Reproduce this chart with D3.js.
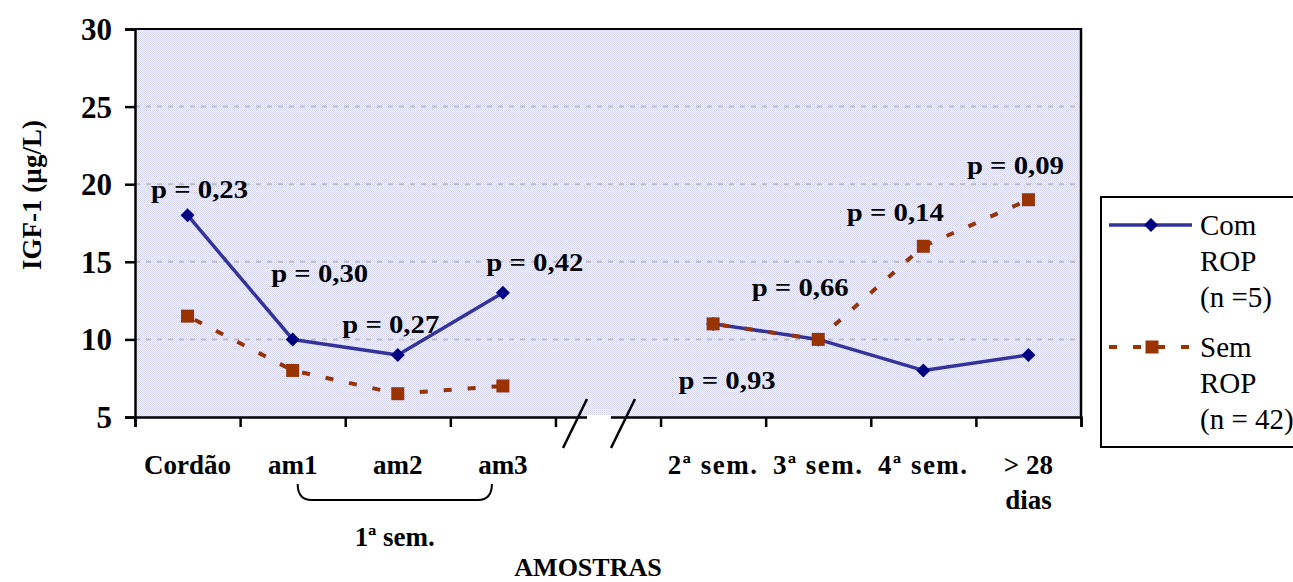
<!DOCTYPE html>
<html>
<head>
<meta charset="utf-8">
<script src="https://cdn.jsdelivr.net/npm/d3@7"></script>
<style>
  html, body { margin: 0; padding: 0; background: #ffffff; }
  svg { display: block; }
  text { font-family: "Liberation Serif", "Times New Roman", serif; fill: #000; }
</style>
</head>
<body>
<svg id="chart" width="1293" height="582"></svg>
<script>
// Sampling points (the empty slot is the broken-axis gap)
const categories = ["Cordão", "am1", "am2", "am3", "", "2ª sem.", "3ª sem.", "4ª sem.", "> 28 dias"];
const categoryLines = [["Cordão"], ["am1"], ["am2"], ["am3"], [], ["2ª sem."], ["3ª sem."], ["4ª sem."], ["> 28", "dias"]];

// IGF-1 (µg/L) per group
const comROP = [18, 10, 9, 13, null, 11, 10, 8, 9];
const semROP = [11.5, 8, 6.5, 7, null, 11, 10, 16, 19];

// p-values shown for each sampling point
const pCategories = ["Cordão", "am1", "am2", "am3", "2ª sem.", "3ª sem.", "4ª sem.", "> 28 dias"];
const pValues = ["0,23", "0,30", "0,27", "0,42", "0,93", "0,66", "0,14", "0,09"];

const yTicks = [5, 10, 15, 20, 25, 30];
const seriesNames = [["Com", "ROP", "(n =5)"], ["Sem", "ROP", "(n = 42)"]];

// ---------------------------------------------------------------
const svg = d3.select("#chart");
const plot = { left: 135, right: 1081, top: 29, bottom: 417 };

const x = d3.scaleLinear().domain([0, categories.length]).range([plot.left, plot.right]);
const xc = i => x(i + 0.5);
const y = d3.scaleLinear().domain([5, 30]).range([plot.bottom, plot.top]);

// dotted lavender fill of the plot area
const defs = svg.append("defs");
const pat = defs.append("pattern").attr("id", "dots")
  .attr("patternUnits", "userSpaceOnUse").attr("width", 2).attr("height", 2);
pat.append("rect").attr("width", 2).attr("height", 2).attr("fill", "#f4f4ff");
pat.append("rect").attr("width", 1).attr("height", 1).attr("fill", "#d2d2f4");
pat.append("rect").attr("x", 1).attr("y", 1).attr("width", 1).attr("height", 1).attr("fill", "#dcdcf8");

svg.append("rect")
  .attr("x", plot.left).attr("y", plot.top)
  .attr("width", plot.right - plot.left).attr("height", plot.bottom - plot.top)
  .attr("fill", "url(#dots)");

// horizontal gridlines
svg.append("g").selectAll("line")
  .data(yTicks.filter(v => v > 5))
  .join("line")
  .attr("x1", plot.left).attr("x2", plot.right)
  .attr("y1", d => y(d)).attr("y2", d => y(d))
  .attr("stroke", "#bdbdbd").attr("stroke-width", 2)
  .attr("stroke-dasharray", "5,6");

// frame: top and right edges
svg.append("line")
  .attr("x1", plot.left).attr("x2", plot.right)
  .attr("y1", plot.top).attr("y2", plot.top)
  .attr("stroke", "#000").attr("stroke-width", 2);
svg.append("line")
  .attr("x1", plot.right).attr("x2", plot.right)
  .attr("y1", plot.top - 1).attr("y2", plot.bottom)
  .attr("stroke", "#000").attr("stroke-width", 2.5);

// y axis
const yAxis = svg.append("g")
  .attr("transform", `translate(${plot.left},0)`)
  .call(d3.axisLeft(y).tickValues(yTicks).tickSize(10).tickPadding(13).tickFormat(d3.format("d")));
yAxis.select(".domain").attr("stroke", "#000").attr("stroke-width", 2.5);
yAxis.selectAll(".tick line").attr("stroke", "#000").attr("stroke-width", 2.5);
yAxis.selectAll(".tick text")
  .attr("font-family", "Liberation Serif").attr("font-size", 31).attr("font-weight", "bold")
  .attr("fill", "#000").attr("dy", "0.34em");

// x axis: tick marks sit between categories
const xAxis = svg.append("g")
  .attr("transform", `translate(0,${plot.bottom})`)
  .call(d3.axisBottom(x).tickValues(d3.range(0, categories.length + 1)).tickSize(10).tickFormat(""));
xAxis.select(".domain").attr("stroke", "#000").attr("stroke-width", 2.5);
xAxis.selectAll(".tick line").attr("stroke", "#000").attr("stroke-width", 2.5);

// axis break inside the empty slot
const breakC = xc(categories.indexOf("")) - 9;
svg.append("rect")
  .attr("x", breakC - 12).attr("y", plot.bottom - 2)
  .attr("width", 24).attr("height", 4).attr("fill", "#fff");
[-24, 24].forEach(off => {
  svg.append("line")
    .attr("x1", breakC + off - 12).attr("y1", plot.bottom + 31)
    .attr("x2", breakC + off + 12).attr("y2", plot.bottom - 18)
    .attr("stroke", "#000").attr("stroke-width", 2.5);
});

// series lines
const line = d3.line()
  .defined(d => d != null)
  .x((d, i) => xc(i))
  .y(d => y(d));

svg.append("path")
  .datum(comROP)
  .attr("d", line)
  .attr("fill", "none").attr("stroke", "#333399").attr("stroke-width", 3.5)
  .attr("stroke-linejoin", "round");

const diamond = r => `M0,${-r}L${r},0L0,${r}L${-r},0Z`;
svg.append("g").selectAll("path")
  .data(comROP.map((v, i) => ({ v, i })).filter(d => d.v != null))
  .join("path")
  .attr("transform", d => `translate(${xc(d.i)},${y(d.v)})`)
  .attr("d", diamond(7))
  .attr("fill", "#000080");

svg.append("path")
  .datum(semROP)
  .attr("d", line)
  .attr("fill", "none").attr("stroke", "#993300").attr("stroke-width", 4)
  .attr("stroke-dasharray", "8,16").attr("stroke-dashoffset", -8);

svg.append("g").selectAll("rect")
  .data(semROP.map((v, i) => ({ v, i })).filter(d => d.v != null))
  .join("rect")
  .attr("x", d => xc(d.i) - 6.5).attr("y", d => y(d.v) - 6.5)
  .attr("width", 13).attr("height", 13)
  .attr("fill", "#993300");

// p-value annotations: horizontal offset from the category centre and baseline level
const pLayout = [
  { dx: 12, at: 19.1 }, { dx: 27, at: 13.7 }, { dx: -7, at: 10.4 }, { dx: 32, at: 14.4 },
  { dx: 14, at: 6.8 }, { dx: -18, at: 12.8 }, { dx: -28, at: 17.6 }, { dx: -13, at: 20.65 }
];
const pG = svg.append("g");
pValues.forEach((pv, k) => {
  const ci = categories.indexOf(pCategories[k]);
  pG.append("g")
    .attr("transform", `translate(${xc(ci) + pLayout[k].dx},${y(pLayout[k].at)}) scale(1.15,1)`)
    .append("text")
    .attr("text-anchor", "middle")
    .attr("font-size", 25).attr("font-weight", "bold")
    .text(`p = ${pv}`);
});

// category labels
const catG = svg.append("g");
categoryLines.forEach((lines, i) => {
  lines.forEach((t, j) => {
    catG.append("text")
      .attr("x", xc(i)).attr("y", 474 + j * 35)
      .attr("text-anchor", "middle")
      .attr("font-size", 27).attr("font-weight", "bold")
      .attr("letter-spacing", t.includes("sem") ? 1.5 : 0)
      .text(t);
  });
});

// bracket grouping am1..am3 as the first week
const bL = xc(1) + 5, bR = xc(3) - 11, bTop = 484, bBot = 500;
svg.append("path")
  .attr("d", `M${bL},${bTop} Q${bL},${bBot} ${bL + 14},${bBot} L${bR - 14},${bBot} Q${bR},${bBot} ${bR},${bTop}`)
  .attr("fill", "none").attr("stroke", "#000").attr("stroke-width", 2);
svg.append("text")
  .attr("x", (bL + bR) / 2).attr("y", 546)
  .attr("text-anchor", "middle")
  .attr("font-size", 27).attr("font-weight", "bold")
  .text("1ª sem.");

// axis titles
svg.append("text")
  .attr("x", 588).attr("y", 576)
  .attr("text-anchor", "middle")
  .attr("font-size", 26).attr("font-weight", "bold")
  .text("AMOSTRAS");
svg.append("text")
  .attr("transform", "translate(41,195) rotate(-90)")
  .attr("text-anchor", "middle")
  .attr("font-size", 27).attr("font-weight", "bold")
  .text("IGF-1 (µg/L)");

// legend
const lg = svg.append("g");
lg.append("rect")
  .attr("x", 1101).attr("y", 197).attr("width", 220).attr("height", 250)
  .attr("fill", "#fff").attr("stroke", "#000").attr("stroke-width", 2);
lg.append("line").attr("x1", 1109).attr("x2", 1192).attr("y1", 225).attr("y2", 225)
  .attr("stroke", "#333399").attr("stroke-width", 3.5);
lg.append("path").attr("transform", "translate(1151,225)").attr("d", diamond(7)).attr("fill", "#000080");
lg.append("line").attr("x1", 1109).attr("x2", 1192).attr("y1", 347).attr("y2", 347)
  .attr("stroke", "#993300").attr("stroke-width", 4).attr("stroke-dasharray", "8,16");
lg.append("rect").attr("x", 1145.5).attr("y", 340.5).attr("width", 13).attr("height", 13).attr("fill", "#993300");
seriesNames.forEach((lines, s) => {
  lines.forEach((t, j) => {
    lg.append("text")
      .attr("x", 1200).attr("y", (s === 0 ? 235 : 357) + j * 36)
      .attr("font-size", 29)
      .text(t);
  });
});
</script>
</body>
</html>
